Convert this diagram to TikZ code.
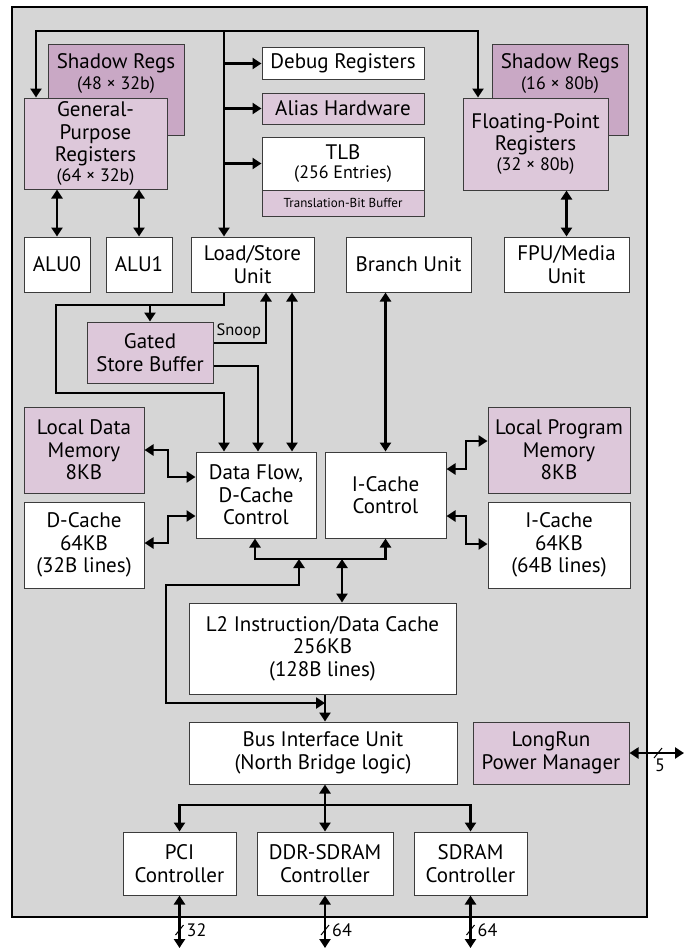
\documentclass[tikz,border=0pt]{standalone}
\usepackage{fontspec}
\setmainfont{PT Sans}
\usetikzlibrary{arrows.meta}
\definecolor{bgc}{RGB}{214,214,214}
\definecolor{mauveL}{RGB}{221,200,218}
\definecolor{mauveD}{RGB}{201,168,197}
\definecolor{bordc}{RGB}{60,60,60}
\newcommand\mainfs{\fontsize{21}{22.5}\selectfont}
\newcommand\smallfs{\fontsize{18}{20}\selectfont}
\newcommand\tinyfs{\fontsize{13}{14}\selectfont}
\newcommand\blk[7]{\node[#1, minimum width={#5-#3}, minimum height={#6-#4}] (#2) at ({(#3+#5)/2},{(#4+#6)/2}) {#7};}
\begin{document}
\begin{tikzpicture}[x=1pt,y=-1pt,
  box/.style={draw=bordc, line width=1pt, fill=white, inner sep=0pt, align=center, font=\mainfs},
  mbox/.style={box, fill=mauveL},
  dbox/.style={box, fill=mauveD},
  txt/.style={inner sep=0pt, align=center, font=\mainfs},
  arr/.style={line width=2.6pt, -{Triangle[length=9pt,width=11pt]}},
  dbl/.style={line width=2.6pt, {Triangle[length=9pt,width=11pt]}-{Triangle[length=9pt,width=11pt]}},
  slash/.style={line width=1pt},
  lab/.style={inner sep=0pt, font=\smallfs}
]
\useasboundingbox (0,0) rectangle (689,950);
\path[draw=black, fill=bgc, line width=1.3pt] (12,7) rectangle (647,917);

% register files
\blk{dbox}{shl}{48}{45}{184}{135}{}
\node[txt, anchor=north] (shlt) at ([yshift=-9pt]shl.north) {Shadow Regs\\[-2pt]{\smallfs(48 × 32b)}};
\blk{mbox}{gpr}{24}{98}{167}{189}{General-\\Purpose\\Registers\\[-3pt]{\smallfs(64 × 32b)}}
\blk{dbox}{shr}{492}{45}{628}{135}{}
\node[txt, anchor=north] (shrt) at ([yshift=-9pt]shr.north) {Shadow Regs\\[-2pt]{\smallfs(16 × 80b)}};
\blk{mbox}{fpr}{463}{98}{608}{190}{Floating-Point\\Registers\\[-3pt]{\smallfs(32 × 80b)}}

\blk{box}{dbg}{262}{48}{424}{79}{Debug Registers}
\blk{mbox}{ali}{262}{93}{424}{124}{Alias Hardware}
\blk{box}{tlb}{262}{137}{424}{190}{TLB\\[-3pt]{\smallfs(256 Entries)}}
\blk{mbox}{tbb}{262}{190}{424}{216}{\tinyfs Translation-Bit Buffer}

% units
\blk{box}{alu0}{24}{237}{90}{292}{ALU0}
\blk{box}{alu1}{106}{237}{172}{292}{ALU1}
\blk{box}{lsu}{191}{237}{314}{292}{Load/Store\\Unit}
\blk{box}{bru}{346}{237}{471}{292}{Branch Unit}
\blk{box}{fpu}{504}{237}{629}{292}{FPU/Media\\Unit}
\blk{mbox}{gsb}{87}{322}{213}{383}{Gated\\Store Buffer}

\blk{mbox}{ldm}{24}{407}{144}{493}{Local Data\\Memory\\8KB}
\blk{box}{dc}{24}{502}{144}{588}{D-Cache\\64KB\\(32B lines)}
\blk{box}{dfc}{196}{452}{316}{538}{Data Flow,\\D-Cache\\Control}
\blk{box}{icc}{325}{452}{446}{538}{I-Cache\\Control}
\blk{mbox}{lpm}{488}{407}{630}{493}{Local Program\\Memory\\8KB}
\blk{box}{ic}{488}{502}{630}{588}{I-Cache\\64KB\\(64B lines)}

\blk{box}{l2}{189}{603}{456}{694}{L2 Instruction/Data Cache\\256KB\\(128B lines)}
\blk{box}{biu}{189}{722}{457}{784}{Bus Interface Unit\\(North Bridge logic)}
\blk{mbox}{lr}{473}{722}{629}{784}{LongRun\\Power Manager}
\blk{box}{pci}{123}{832}{236}{895}{PCI\\Controller}
\blk{box}{ddr}{257}{832}{393}{895}{DDR-SDRAM\\Controller}
\blk{box}{sdr}{414}{832}{527}{895}{SDRAM\\Controller}

% coordinates
\coordinate (tl) at (36,31);
\coordinate (tr) at (478,31);
\coordinate (v) at (224,31);
\coordinate (lsA) at (224,305);
\coordinate (lsB) at (56,393);
\coordinate (sn) at (266,343);
\coordinate (gd) at (258,366);
\coordinate (ld) at (292,0);
\coordinate (la) at (168,450);
\coordinate (lb) at (168,477);
\coordinate (lc1) at (168,516);
\coordinate (lc2) at (168,543);
\coordinate (ra) at (466,469);
\coordinate (rb) at (466,441);
\coordinate (rc1) at (466,516);
\coordinate (rc2) at (466,544);
\coordinate (ba) at (255,559);
\coordinate (lc) at (342,559);
\coordinate (pa) at (299,559);
\coordinate (pb) at (166,585);
\coordinate (pc) at (325,703);
\coordinate (bb) at (325,805);
\coordinate (ob) at (0,948);
\coordinate (sl) at (0,930);
\coordinate (lro) at (684,753);
\coordinate (lrs) at (658,753);

% top bus
\draw[arr] (v) -| (tl |- gpr.north);
\draw[arr] (v) -| (tr |- fpr.north);
\draw[arr] (v) -- (v |- lsu.north);
\draw[arr] (v |- dbg.west) -- (dbg.west);
\draw[arr] (v |- ali.west) -- (ali.west);
\draw[arr] (v |- tlb.west) -- (tlb.west);

\draw[dbl] (gpr.south -| alu0.north) -- (alu0.north);
\draw[dbl] (gpr.south -| alu1.north) -- (alu1.north);
\draw[dbl] (fpr.south -| fpu.north) -- (fpu.north);

% load/store paths
\draw[arr] (lsu.south -| lsA) -- (lsA) -| (lsB) -| (dfc.north -| lsA);
\draw[arr] (gsb.east |- sn) -| (lsu.south -| sn);
\draw[arr] (gsb.north |- lsA) -- (gsb.north);
\node[inner sep=0pt, font=\fontsize{16.5}{18}\selectfont, anchor=south west] (snl) at ([xshift=3pt,yshift=4pt]gsb.east |- sn) {Snoop};
\draw[arr] (gsb.east |- gd) -| (dfc.north -| gd);
\draw[dbl] (lsu.south -| ld) -- (dfc.north -| ld);
\draw[dbl] (bru.south -| icc.north) -- (icc.north);

% side memories
\draw[dbl] (ldm.east |- la) -- (la) -- (lb) -- (dfc.west |- lb);
\draw[dbl] (dfc.west |- lc1) -- (lc1) -- (lc2) -- (dc.east |- lc2);
\draw[dbl] (icc.east |- ra) -- (ra) -- (rb) -- (lpm.west |- rb);
\draw[dbl] (icc.east |- rc1) -- (rc1) -- (rc2) -- (ic.west |- rc2);

% cache bus
\draw[dbl] (dfc.south -| ba) -- (ba) -| (icc.south);
\draw[dbl] (lc) -- (l2.north -| lc);
\draw[dbl] (pa) |- (pb) |- (pc);
\draw[arr] (l2.south -| pc) -- (biu.north -| pc);

% bus interface
\draw[dbl] (biu.south -| bb) -- (ddr.north -| bb);
\draw[arr] (bb) -| (pci.north);
\draw[arr] (bb) -| (sdr.north);

% external
\draw[dbl] (pci.south) -- (pci.south |- ob);
\draw[dbl] (ddr.south -| bb) -- (bb |- ob);
\draw[dbl] (sdr.south) -- (sdr.south |- ob);
\draw[dbl] (lr.east) -- (lro);
\draw[slash] ([xshift=-4pt,yshift=-5pt]pci.south |- sl) -- ([xshift=4pt,yshift=5pt]pci.south |- sl);
\draw[slash] ([xshift=-4pt,yshift=-5pt]bb |- sl) -- ([xshift=4pt,yshift=5pt]bb |- sl);
\draw[slash] ([xshift=-4pt,yshift=-5pt]sdr.south |- sl) -- ([xshift=4pt,yshift=5pt]sdr.south |- sl);
\draw[slash] ([xshift=-4pt,yshift=-5pt]lrs) -- ([xshift=4pt,yshift=5pt]lrs);
\node[lab, anchor=west] (n32) at ([xshift=7pt]pci.south |- sl) {32};
\node[lab, anchor=west] (n64a) at ([xshift=7pt]bb |- sl) {64};
\node[lab, anchor=west] (n64b) at ([xshift=7pt]sdr.south |- sl) {64};
\node[lab, anchor=north] (n5) at ([xshift=2pt,yshift=-6pt]lrs) {5};
\end{tikzpicture}
\end{document}
